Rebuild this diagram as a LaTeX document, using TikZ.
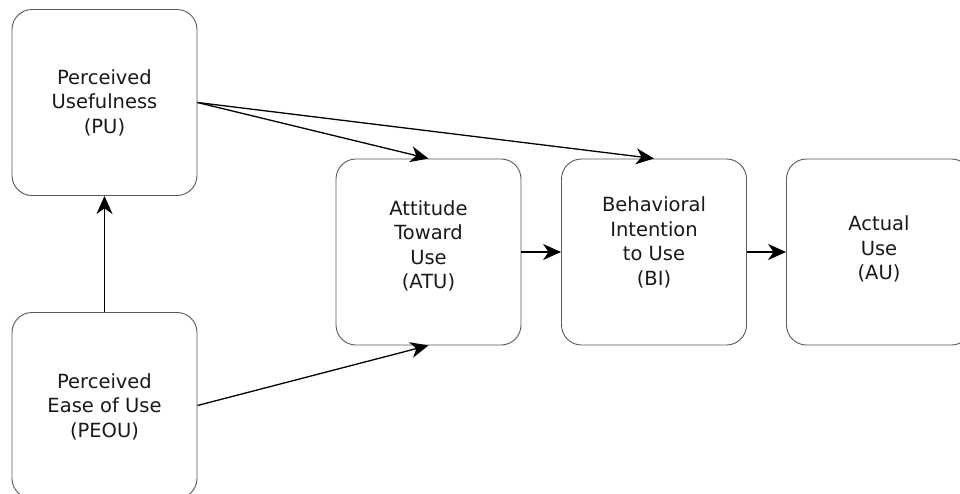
\documentclass[tikz,border=0pt]{standalone}
\usepackage{fontspec}
\setmainfont{DejaVu Sans}
\usetikzlibrary{arrows.meta}
\begin{document}
\begin{tikzpicture}[x=1pt,y=-1pt,
  box/.style={draw=black!65, line width=0.9pt, rounded corners=20pt, fill=white,
    minimum width=185pt, minimum height=186pt, inner sep=0pt,
    align=center, font=\fontsize{19.5}{24.5}\selectfont, text=black!90},
  arr/.style={line width=1.3pt, draw=black, -{Stealth[length=18pt,width=16pt,inset=5.5pt]}}]
\useasboundingbox (0,0) rectangle (960,493);
\fill[white] (0,0) rectangle (960,493);
\node[box] (pu) at (104.5,102.5) {Perceived\\Usefulness\\(PU)};
\node[box] (peou) at (104.5,405.5) {\rule{0pt}{17pt}Perceived\\Ease of Use\\(PEOU)};
\node[box] (atu) at (428.5,252) {Attitude\\Toward\\Use\\(ATU)\rule[-15pt]{0pt}{15pt}};
\node[box] (bi) at (654,252) {Behavioral\\Intention\\to Use\\(BI)\rule[-22pt]{0pt}{22pt}};
\node[box] (au) at (879,252) {Actual\\Use\\(AU)\rule[-8pt]{0pt}{8pt}};
\draw[arr] (peou.north) -- (pu.south);
\draw[arr] (pu.east) -- (atu.north);
\draw[arr] (pu.east) -- (bi.north);
\draw[arr] (peou.east) -- (atu.south);
\draw[arr] (atu.east) -- (bi.west);
\draw[arr] (bi.east) -- (au.west);
\end{tikzpicture}
\end{document}
